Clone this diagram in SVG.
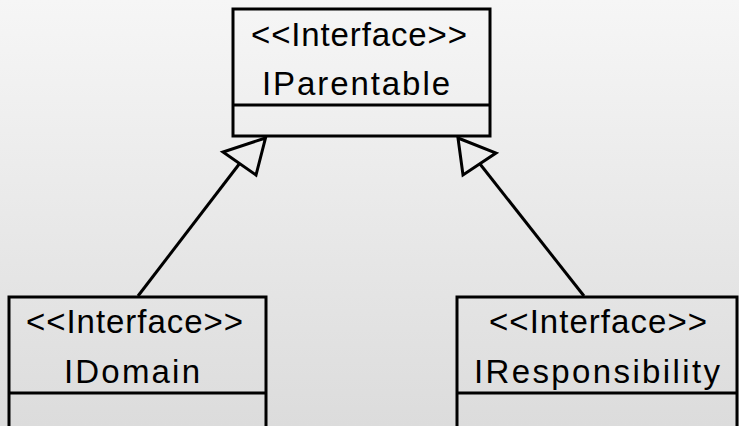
<svg xmlns="http://www.w3.org/2000/svg" width="739" height="426" viewBox="0 0 739 426">
  <defs>
    <linearGradient id="bg" x1="0" y1="0" x2="0" y2="1">
      <stop offset="0" stop-color="#f6f6f6"/>
      <stop offset="1" stop-color="#dcdcdc"/>
    </linearGradient>
    <style>
      .box { fill: none; stroke: #000; stroke-width: 3; }
      .label { font-family: "Liberation Sans", Arial, sans-serif; font-size: 33px; fill: #000; }
      .edge { stroke: #000; stroke-width: 3; fill: none; }
      .head { stroke: #000; stroke-width: 3; fill: none; stroke-linejoin: miter; }
    </style>
  </defs>

  <rect width="739" height="426" fill="url(#bg)"/>

  <!-- connectors: realization arrows -->
  <g id="connectors">
    <line class="edge" x1="138" y1="296" x2="240" y2="163"/>
    <polygon class="head" points="265.5,138 223,152 256,175"/>
    <line class="edge" x1="584" y1="296" x2="480" y2="164"/>
    <polygon class="head" points="458,138 496,153 463,175"/>
  </g>

  <g id="IParentable">
    <rect class="box" x="233" y="9" width="257" height="127"/>
    <line class="box" x1="233" y1="105" x2="490" y2="105"/>
    <text class="label" x="251" y="46" textLength="216" lengthAdjust="spacing">&lt;&lt;Interface&gt;&gt;</text>
    <text class="label" x="262" y="95" textLength="188" lengthAdjust="spacing">IParentable</text>
  </g>

  <g id="IDomain">
    <rect class="box" x="9" y="297" width="257" height="140"/>
    <line class="box" x1="9" y1="393" x2="266" y2="393"/>
    <text class="label" x="26" y="333" textLength="217" lengthAdjust="spacing">&lt;&lt;Interface&gt;&gt;</text>
    <text class="label" x="64" y="383" textLength="136" lengthAdjust="spacing">IDomain</text>
  </g>

  <g id="IResponsibility">
    <rect class="box" x="457" y="297" width="280" height="140"/>
    <line class="box" x1="457" y1="393" x2="737" y2="393"/>
    <text class="label" x="489" y="333" textLength="218" lengthAdjust="spacing">&lt;&lt;Interface&gt;&gt;</text>
    <text class="label" x="474" y="383" textLength="246" lengthAdjust="spacing">IResponsibility</text>
  </g>
</svg>
